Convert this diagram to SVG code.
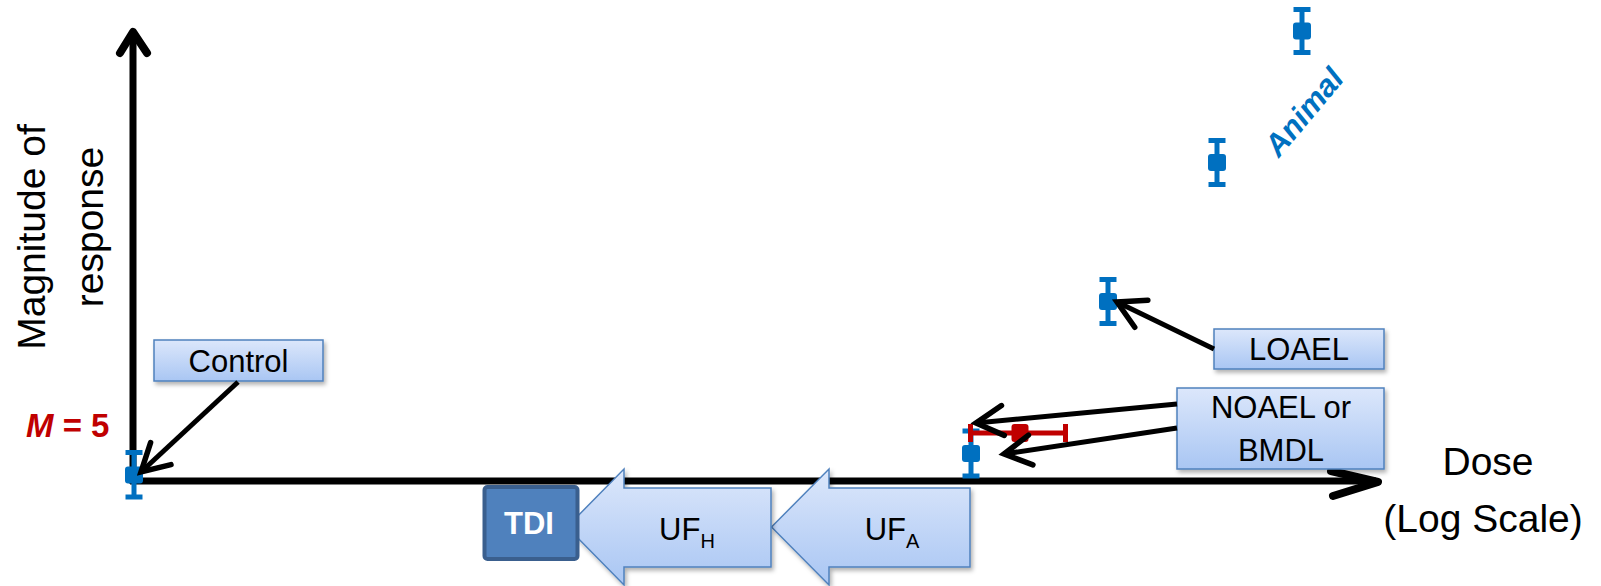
<svg xmlns="http://www.w3.org/2000/svg" width="1601" height="586" viewBox="0 0 1601 586">
  <style>
    text { font-family: "Liberation Sans", Arial, sans-serif; }
    .axis { stroke: #000; stroke-width: 7; fill: none; }
    .axhead { stroke: #000; stroke-width: 8; fill: none; stroke-linecap: round; stroke-linejoin: round; }
    .conn { stroke: #000; stroke-width: 5; fill: none; }
    .box { fill: url(#boxGrad); stroke: #4F81BD; stroke-width: 1.5; filter: url(#shadow); }
    .lbl { font-size: 31px; fill: #000; text-anchor: middle; }
    .big { font-size: 39px; fill: #000; text-anchor: middle; }
    .eb { stroke: #0070C0; stroke-width: 5; fill: none; }
    .ebsq { fill: #0070C0; }
    .ebr { stroke: #C00000; stroke-width: 5; fill: none; }
    .ebrsq { fill: #C00000; }
  </style>
  <defs>
    <linearGradient id="boxGrad" x1="0" y1="0" x2="0" y2="1">
      <stop offset="0" stop-color="#DCE7FB"/>
      <stop offset="1" stop-color="#A9C6F3"/>
    </linearGradient>
    <filter id="shadow" x="-10%" y="-10%" width="125%" height="135%">
      <feDropShadow dx="2" dy="3" stdDeviation="2" flood-color="#000" flood-opacity="0.3"/>
    </filter>
    <marker id="chev" markerUnits="userSpaceOnUse" orient="auto" markerWidth="70" markerHeight="70" refX="0" refY="0" viewBox="-35 -35 70 70" overflow="visible">
      <path d="M-27,-15 L0,0 L-27,15" fill="none" stroke="#000" stroke-width="5.5" stroke-linecap="round" stroke-linejoin="miter"/>
    </marker>
  </defs>

  <!-- axes -->
  <g id="axes">
    <line class="axis" x1="133" y1="36" x2="133" y2="484"/>
    <polyline class="axhead" points="120,53 133,32 147,53"/>
    <line class="axis" x1="130" y1="481" x2="1376" y2="481"/>
    <polyline class="axhead" points="1331,471 1378,482 1333,496"/>
  </g>

  <!-- axis titles -->
  <g id="y-title">
    <text class="big" font-size="40" transform="translate(45,237) rotate(-90)">Magnitude of</text>
    <text class="big" font-size="38" transform="translate(103,227) rotate(-90)">response</text>
  </g>
  <g id="x-title">
    <text class="big" x="1488" y="475">Dose</text>
    <text class="big" x="1483" y="532">(Log Scale)</text>
  </g>
  <text id="m-label" x="26" y="437" font-size="33" font-weight="bold" fill="#C00000"><tspan font-style="italic">M</tspan> = 5</text>

  <!-- uncertainty factor arrows and TDI -->
  <g id="uf-a">
    <path class="box" d="M771.5,527 L829,469 L829,488 L970,488 L970,567 L829,567 L829,585 Z"/>
    <text class="lbl" x="892" y="540" font-size="33">UF<tspan font-size="20" dy="8">A</tspan></text>
  </g>
  <g id="uf-h">
    <path class="box" d="M567,527 L624,469 L624,488 L771,488 L771,567 L624,567 L624,585 Z"/>
    <text class="lbl" x="687" y="540" font-size="33">UF<tspan font-size="20" dy="8">H</tspan></text>
  </g>
  <g id="tdi">
    <rect x="484.5" y="487" width="93" height="72" rx="3" fill="#4F81BD" stroke="#3A5F8E" stroke-width="4"/>
    <text x="529" y="534" font-size="31" font-weight="bold" fill="#FFFFFF" text-anchor="middle">TDI</text>
  </g>

  <!-- data points with error bars -->
  <g id="point-control">
    <line class="eb" x1="134" y1="452.5" x2="134" y2="497"/>
    <line class="eb" x1="125.5" y1="452.5" x2="142.5" y2="452.5"/>
    <line class="eb" x1="125.5" y1="497" x2="142.5" y2="497"/>
    <rect class="ebsq" x="125" y="466.5" width="18" height="17" rx="3"/>
  </g>
  <g id="point-noael">
    <line class="eb" x1="971" y1="431" x2="971" y2="476"/>
    <line class="eb" x1="962.5" y1="431" x2="979.5" y2="431"/>
    <line class="eb" x1="962.5" y1="476" x2="979.5" y2="476"/>
    <rect class="ebsq" x="962" y="445" width="18" height="17" rx="3"/>
  </g>
  <g id="point-bmdl">
    <line class="ebr" x1="970.5" y1="433" x2="1065.5" y2="433"/>
    <line class="ebr" x1="970.5" y1="424" x2="970.5" y2="442"/>
    <line class="ebr" x1="1065.5" y1="424" x2="1065.5" y2="442"/>
    <rect class="ebrsq" x="1011.5" y="424" width="17" height="18" rx="3"/>
  </g>
  <g id="point-loael">
    <line class="eb" x1="1108" y1="279.5" x2="1108" y2="323.5"/>
    <line class="eb" x1="1099.5" y1="279.5" x2="1116.5" y2="279.5"/>
    <line class="eb" x1="1099.5" y1="323.5" x2="1116.5" y2="323.5"/>
    <rect class="ebsq" x="1099" y="293" width="18" height="17" rx="3"/>
  </g>
  <g id="point-animal-2">
    <line class="eb" x1="1217" y1="140.5" x2="1217" y2="184.5"/>
    <line class="eb" x1="1208.5" y1="140.5" x2="1225.5" y2="140.5"/>
    <line class="eb" x1="1208.5" y1="184.5" x2="1225.5" y2="184.5"/>
    <rect class="ebsq" x="1208" y="154" width="18" height="17" rx="3"/>
  </g>
  <g id="point-animal-3">
    <line class="eb" x1="1302" y1="9.5" x2="1302" y2="52.5"/>
    <line class="eb" x1="1293.5" y1="9.5" x2="1310.5" y2="9.5"/>
    <line class="eb" x1="1293.5" y1="52.5" x2="1310.5" y2="52.5"/>
    <rect class="ebsq" x="1293" y="22.5" width="18" height="17" rx="3"/>
  </g>
  <text id="animal-label" transform="translate(1312,119) rotate(-50)" font-size="31" font-weight="bold" font-style="italic" fill="#0070C0" text-anchor="middle">Animal</text>

  <!-- callout boxes -->
  <g id="control">
    <rect class="box" x="154" y="340" width="169" height="41"/>
    <text class="lbl" x="238.5" y="372" font-size="33">Control</text>
  </g>
  <g id="loael">
    <rect class="box" x="1214" y="329" width="170" height="40"/>
    <text class="lbl" x="1299" y="360">LOAEL</text>
  </g>
  <g id="noael">
    <rect class="box" x="1177" y="388" width="207" height="81"/>
    <text class="lbl" x="1281" y="418">NOAEL or</text>
    <text class="lbl" x="1281" y="461">BMDL</text>
  </g>

  <!-- connectors -->
  <g id="connectors">
    <line class="conn" x1="238" y1="382" x2="141" y2="472" marker-end="url(#chev)"/>
    <line class="conn" x1="1214" y1="349" x2="1117" y2="302" marker-end="url(#chev)"/>
    <line class="conn" x1="1177" y1="404" x2="976" y2="423" marker-end="url(#chev)"/>
    <line class="conn" x1="1177" y1="428" x2="1004" y2="454" marker-end="url(#chev)"/>
  </g>
</svg>
